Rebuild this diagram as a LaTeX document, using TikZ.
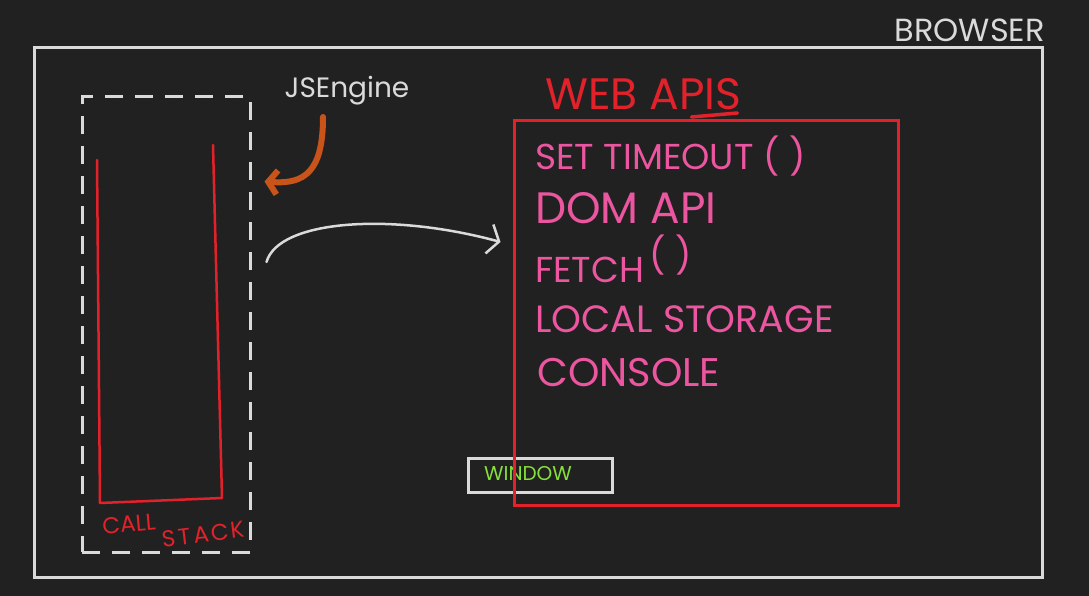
\documentclass[tikz,border=0pt]{standalone}
\usepackage{fontspec}
\setmainfont{Poppins}
\usepackage{xcolor}
\usetikzlibrary{positioning,arrows.meta}
\definecolor{quadro}{HTML}{212121}
\definecolor{giz}{HTML}{DADADA}
\definecolor{tintared}{HTML}{E3212B}
\definecolor{tintarosa}{HTML}{EC559F}
\definecolor{tintaverde}{HTML}{86E03C}
\definecolor{tintalaranja}{HTML}{C9541A}

\begin{document}
\begin{tikzpicture}[x=1pt, y=-1pt,
      caixa/.style={line width=3pt, inner sep=0pt},
      rotulo/.style={inner sep=0pt, anchor=base west},
      apiitem/.style={rotulo, text=tintarosa, font=\fontsize{36}{36}\selectfont},
      pilha/.style={inner sep=0pt, text=tintared, font=\fontsize{23}{23}\selectfont},
      seta/.style={giz, line width=2.5pt, line cap=round, -{Straight Barb[length=10pt, width=30pt]}}]
    \fill[quadro] (0,0) rectangle (1089,596);
    \useasboundingbox (0,0) rectangle (1089,596);
    % browser
    \node[caixa, draw=giz, minimum width=1008pt, minimum height=529pt] (browser) at (538,312.5) {};
    \node[rotulo, text=giz, anchor=base east, font=\fontsize{32}{32}\selectfont] (browserlbl) at (1045,42) {BROWSER};
    % motor JS
    \node[caixa, draw=giz, dash pattern=on 18pt off 12pt, minimum width=168pt, minimum height=455pt] (engine) at (166,324.5) {};
    \node[inner sep=0pt, anchor=base, text=giz, font=\fontsize{28}{28}\selectfont] (jslabel) at (347,98) {JSEngine};
    \draw[tintared, line width=2.5pt, line join=round, line cap=round] (97,160) -- (100,503) -- (222,498) -- (213,145);
    \node[pilha, rotate=5] (call) at (129,524) {CALL};
    \node[pilha, rotate=7] (stack) at (203,534) {S\kern3pt T\kern3pt A\kern2pt C\kern2pt K};
    % web apis
    \node[caixa, draw=giz, minimum width=144pt, minimum height=34pt] (window) at (540,475) {};
    \node[inner sep=0pt, text=tintaverde, font=\fontsize{20}{20}\selectfont] (windowlbl) at (528,474) {WINDOW};
    \node[caixa, draw=tintared, minimum width=384pt, minimum height=384pt] (webapis) at (706,313) {};
    \node[rotulo, text=tintared, font=\fontsize{44}{44}\selectfont] (webtitle) at (545,110) {WEB APIS};
    \draw[tintared, line width=3.5pt, line cap=round] ([shift={(-50,7)}]webtitle.base east) -- ([shift={(-4,3)}]webtitle.base east);
    \node[apiitem] (settimeout) at (535,170) {SET TIMEOUT ( )};
    \node[apiitem, font=\fontsize{44}{44}\selectfont] (domapi) at (535,223) {DOM API};
    \node[apiitem] (fetch) at (535,282) {FETCH\,\raisebox{14pt}{( )}};
    \node[apiitem, font=\fontsize{38}{38}\selectfont] (localstorage) at (535,332) {LOCAL STORAGE};
    \node[apiitem, font=\fontsize{40}{40}\selectfont] (console) at (537,386) {CONSOLE};
    % setas
    \draw[tintalaranja, line width=6pt, line cap=round, -{Straight Barb[length=9pt, width=24pt]}]
      ([shift={(-24,19)}]jslabel.base) .. controls +(0,55) and +(40,3) .. ([shift={(13,86)}]engine.north east);
    \draw[seta] ([shift={(15,-62.5)}]engine.east) .. controls +(12,-42) and +(-110,-30) .. ([shift={(-12,-71)}]webapis.west);
  \end{tikzpicture}
\end{document}
